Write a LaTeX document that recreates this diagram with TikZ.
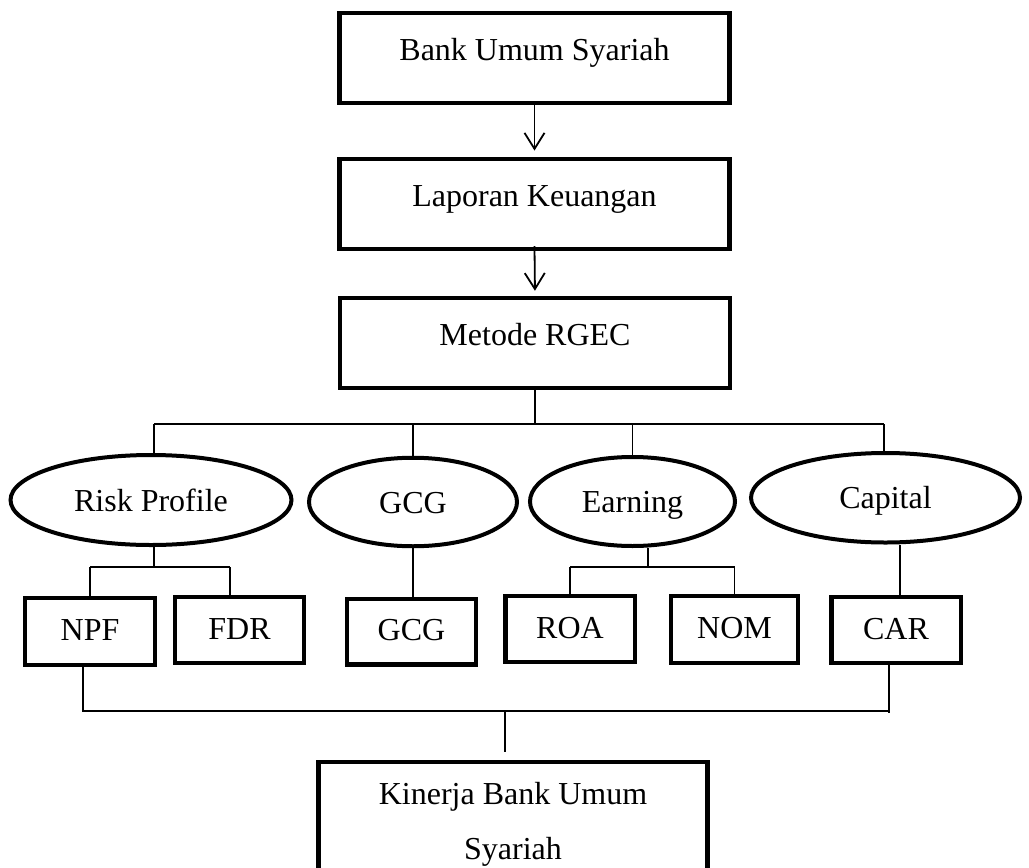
\documentclass[tikz,border=0pt]{standalone}
\usepackage{fontspec}
\setmainfont{Liberation Serif}
\usetikzlibrary{arrows.meta,shapes.geometric}
\begin{document}
\begin{tikzpicture}[x=1pt,y=-1pt,
  bigbox/.style={draw, line width=4.5pt, minimum width=390pt, minimum height=90pt,
    inner sep=0pt, font=\fontsize{32}{38}\selectfont, text height=22pt, text depth=17pt},
  oval/.style={draw, ellipse, line width=4pt, inner sep=0pt,
    font=\fontsize{32}{38}\selectfont, text height=22pt, text depth=0pt},
  smallbox/.style={draw, line width=4.5pt, minimum width=129pt, minimum height=66pt,
    inner sep=0pt, font=\fontsize{32}{38}\selectfont, text height=21pt, text depth=3pt},
  kinbox/.style={draw, line width=4.5pt, minimum width=389pt, inner xsep=0pt,
    inner ysep=20.5pt, anchor=north, align=center, font=\fontsize{32}{55}\selectfont},
  conn/.style={line width=1.6pt},
  arr/.style={line width=1.8pt, -{Straight Barb[length=16pt,width=20pt,line width=1.8pt]}}
]
\useasboundingbox[fill=white] (0,0) rectangle (1029,868);
\clip (0,0) rectangle (1029,868);

% top boxes
\node[bigbox] (b1) at (534.5,57.75) {Bank Umum Syariah};
\node[bigbox] (b2) at (534.5,203.8) {Laporan Keuangan};
\node[bigbox] (b3) at (535,343) {Metode RGEC};

\draw[arr, shorten >=6pt] (b1.south) -- (b2.north);
\draw[arr, shorten >=5pt] ([yshift=5pt]b2.south) -- (b3.north);

% ellipses
\node[oval, minimum width=281pt, minimum height=90pt] (rp) at (151,500) {Risk Profile};
\node[oval, minimum width=208pt, minimum height=88.5pt] (eg) at (413,502) {GCG};
\node[oval, minimum width=205pt, minimum height=89pt] (ee) at (632.5,501.5) {Earning};
\node[oval, minimum width=269pt, minimum height=89.5pt] (ec) at (885.5,497.75) {Capital};

% top bus
\coordinate (tR) at (154,424);
\coordinate (tC) at (884,424);
\draw[conn] (b3.south) -- (b3.south |- tR);
\draw[conn] (tR) -- (tC);
\draw[conn] (tR) -- (tR |- rp.north);
\draw[conn] (eg.north |- tR) -- (eg.north);
\draw[conn] (ee.north |- tR) -- (ee.north);
\draw[conn] (tC) -- (tC |- ec.north);

% small boxes
\node[smallbox, minimum width=130pt, minimum height=67pt] (npf) at (90,631.5) {NPF};
\node[smallbox] (fdr) at (239.5,630) {FDR};
\node[smallbox, minimum height=65.5pt] (gcg) at (411.5,631.75) {GCG};
\node[smallbox, minimum width=129.5pt] (roa) at (570,629) {ROA};
\node[smallbox, minimum width=127pt, minimum height=67pt] (nom) at (734.5,629.5) {NOM};
\node[smallbox, minimum width=129.5pt] (car) at (896,630) {CAR};

% risk profile branch
\coordinate (jR) at (154,567);
\coordinate (jRl) at (90,567);
\coordinate (jRr) at (230,567);
\draw[conn] (jR |- rp.south) -- (jR);
\draw[conn] (jRl) -- (jRr);
\draw[conn] (jRl) -- (npf.north);
\draw[conn] (jRr) -- (jRr |- fdr.north);

% GCG branch
\draw[conn] (eg.south) -- (eg.south |- gcg.north);

% earning branch
\coordinate (jE) at (648,567);
\draw[conn] (jE |- ee.south) -- (jE);
\draw[conn] (roa.north |- jE) -- (nom.north |- jE);
\draw[conn] (roa.north |- jE) -- (roa.north);
\draw[conn] (nom.north |- jE) -- (nom.north);

% capital branch
\coordinate (jC) at (900,560);
\draw[conn] (jC |- ec.south) -- (jC |- car.north);

% bottom box
\node[kinbox] (kin) at (513,759.5) {Kinerja Bank Umum\\Syariah};

% bottom bus
\coordinate (kL) at (83,711);
\coordinate (kR) at (889,711);
\coordinate (kM) at (505,711);
\draw[conn] (kL |- npf.south) -- (kL) -- (kR);
\draw[conn] (kR |- car.south) -- ([yshift=-2pt]kR);
\draw[conn, shorten >=8pt] (kM) -- (kM |- kin.north);
\end{tikzpicture}
\end{document}
